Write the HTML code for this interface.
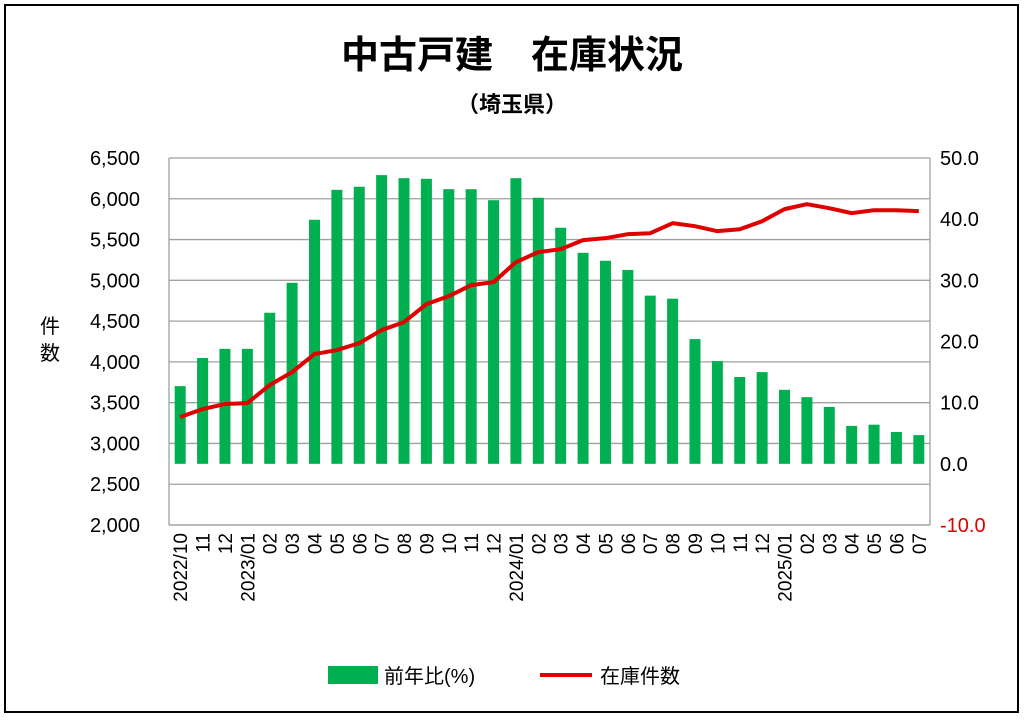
<!DOCTYPE html>
<html><head><meta charset="utf-8"><style>
body{margin:0;background:#fff}
svg text{font-family:"Liberation Sans","Noto Sans CJK JP",sans-serif;fill:#000}
</style></head><body>
<svg width="1024" height="717" xmlns="http://www.w3.org/2000/svg" id="chart">
<rect x="5" y="5" width="1013" height="707" fill="#fff" stroke="#000" stroke-width="2"/>
<text x="512" y="68" font-size="38" font-weight="bold" text-anchor="middle">中古戸建　在庫状況</text>
<text x="512" y="112" font-size="22" font-weight="bold" text-anchor="middle">（埼玉県）</text>
<g id="grid"></g><g id="bars"></g><g id="line"></g><g id="axes"></g>
<text x="50" y="333" font-size="20" text-anchor="middle">件</text>
<text x="50" y="360" font-size="20" text-anchor="middle">数</text>
<g>
<rect x="328" y="666" width="50" height="18" fill="#00b050"/>
<text x="384" y="683" font-size="20">前年比(%)</text>
<line x1="540" y1="675" x2="592" y2="675" stroke="#e00000" stroke-width="4"/>
<text x="600" y="683" font-size="20">在庫件数</text>
</g>
</svg>
<script>
const categories=["2022/10","11","12","2023/01","02","03","04","05","06","07","08","09","10","11","12","2024/01","02","03","04","05","06","07","08","09","10","11","12","2025/01","02","03","04","05","06","07"];
const yoyValues=[12.7,17.3,18.8,18.8,24.7,29.6,39.9,44.8,45.3,47.2,46.7,46.6,44.9,44.9,43.1,46.7,43.5,38.6,34.5,33.2,31.7,27.5,27.0,20.4,16.8,14.2,15.0,12.1,10.9,9.3,6.2,6.4,5.2,4.7];
const stockValues=[3324,3421,3483,3495,3716,3875,4096,4145,4230,4390,4488,4708,4806,4941,4978,5223,5346,5382,5493,5517,5566,5578,5701,5664,5603,5627,5725,5873,5934,5885,5824,5860,5860,5848];
const leftTicks=[2000,2500,3000,3500,4000,4500,5000,5500,6000,6500];
const rightTicks=[-10,0,10,20,30,40,50];
const X0=169,X1=930,Y0=158,Y1=525;
const NS="http://www.w3.org/2000/svg";
const bw=(X1-X0)/categories.length;
const xC=i=>X0+bw*(i+0.5);
const yL=v=>Y1-(v-2000)/4500*(Y1-Y0);
const yR=v=>Y1-(v+10)/60*(Y1-Y0);
function mk(t,a,p){const e=document.createElementNS(NS,t);for(const k in a)e.setAttribute(k,a[k]);document.getElementById(p).appendChild(e);return e;}
leftTicks.forEach((v,i)=>{
 const g=mk('line',{x1:X0,x2:X1,y1:yL(v),y2:yL(v),stroke:'#a0a0a0','stroke-width':1.3},'grid');
 
 
 const t=mk('text',{x:140,y:yL(v)+7,'font-size':20,'text-anchor':'end'},'axes');
 t.textContent=v.toLocaleString('en-US');
 
 
});
rightTicks.forEach(v=>{
 const t=mk('text',{x:940,y:yR(v)+7,'font-size':20},'axes');
 t.textContent=v.toFixed(1);
 if(v<0)t.setAttribute('fill','#e00000'),t.style.fill='#e00000';
 
 
});
const ax=[[X0,Y0,X0,Y1],[X1,Y0,X1,Y1],[X0,Y1,X1,Y1]];
ax.forEach(a=>{const l=mk('line',{x1:a[0],y1:a[1],x2:a[2],y2:a[3],stroke:'#a0a0a0','stroke-width':1.3},'axes');
 
 });
categories.forEach((c,i)=>{
 const v=yoyValues[i];
 const r=mk('rect',{x:xC(i)-5.5,width:11,y:Math.min(yR(v),yR(0)),height:Math.abs(yR(0)-yR(v)),fill:'#00b050'},'bars');
 
 
 const t=mk('text',{'font-size':19,'text-anchor':'end',transform:`translate(${xC(i)+7},533) rotate(-90)`},'axes');
 t.textContent=c;
 
 
});
const p=mk('polyline',{points:stockValues.map((v,i)=>xC(i)+','+yL(v)).join(' '),fill:'none',stroke:'#e00000','stroke-width':4,'stroke-linejoin':'round'},'line');


</script>
</body></html>
